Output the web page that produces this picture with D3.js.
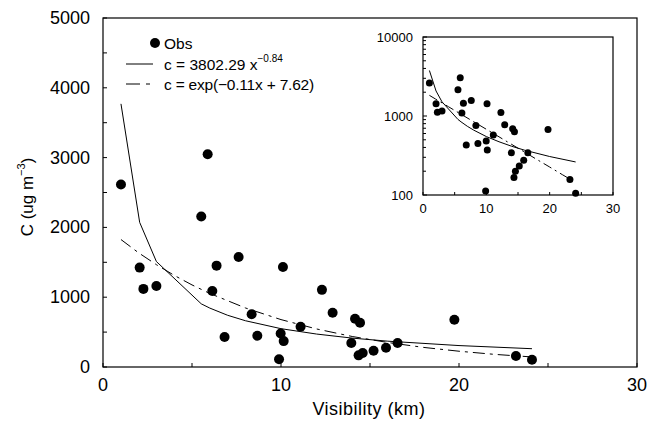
<!DOCTYPE html>
<html>
<head>
<meta charset="utf-8">
<script src="https://cdn.jsdelivr.net/npm/d3@7"></script>
<style>
  body { margin: 0; background: #fff; }
  svg text { font-family: "Liberation Sans", Arial, sans-serif; fill: #000; }
</style>
</head>
<body>
<svg id="chart" width="647" height="421"></svg>
<script>
// observed visibility (km) and concentration (ug m-3)
const obsX = [1.01, 2.06, 2.27, 3.0, 5.52, 5.88, 6.14, 6.38, 6.83, 7.62, 8.35, 8.67, 9.89, 9.98,
  10.11, 10.15, 11.1, 12.3, 12.9, 13.95, 14.16, 14.36, 14.44, 14.59, 15.2, 15.9, 16.55, 19.74, 23.2, 24.1]
const obsC = [2614, 1424, 1119, 1161, 2157, 3047, 1090, 1452, 429, 1576, 757, 448, 112, 481,
  1433, 371, 576, 1105, 776, 343, 690, 167, 633, 200, 233, 276, 343, 676, 157, 105]

// power fit c = 3802.29 x^-0.84, as drawn
const powX = [1.01, 2.06, 3.0, 5.52, 6.0, 7.0, 8.0, 10.0, 12.0, 14.0, 16.0, 20.0, 24.1]
const powC = [3770, 2072, 1511, 905, 844, 741, 663, 549, 472, 414, 370, 307, 262]

// exponential fit c = exp(-0.11x + 7.62), as drawn
const expX = [1.01, 2, 3, 4, 5, 6, 8, 10, 12, 14, 16, 18, 20, 22, 24.1]
const expC = [1826, 1636, 1466, 1313, 1176, 1054, 846, 679, 545, 437, 351, 281, 226, 181, 144]

const xTicks = [0, 10, 20, 30]
const yTicks = [0, 1000, 2000, 3000, 4000, 5000]
const insetYTicks = [100, 1000, 10000]

const svg = d3.select('#chart')

const x = d3.scaleLinear().domain([0, 30]).range([103, 637])
const y = d3.scaleLinear().domain([0, 5000]).range([367, 18])

// frame
svg.append('rect')
  .attr('x', 103).attr('y', 18)
  .attr('width', 637 - 103).attr('height', 367 - 18)
  .attr('fill', 'none').attr('stroke', '#000').attr('stroke-width', 1.2)

// inward ticks
const g = svg.append('g')
d3.range(0, 31, 5).forEach(v => {
  g.append('line').attr('x1', x(v)).attr('x2', x(v)).attr('y1', 367).attr('y2', 363)
    .attr('stroke', '#000')
})
d3.range(0, 5001, 500).forEach(v => {
  g.append('line').attr('x1', 103).attr('x2', 107).attr('y1', y(v)).attr('y2', y(v))
    .attr('stroke', '#000')
})
xTicks.forEach(v => {
  g.append('text').attr('x', x(v)).attr('y', 391).attr('text-anchor', 'middle')
    .attr('font-size', 18).text(v)
})
yTicks.forEach(v => {
  g.append('text').attr('x', 90).attr('y', y(v) + 6).attr('text-anchor', 'end')
    .attr('font-size', 18).text(v)
})

svg.append('text').attr('x', 369).attr('y', 415).attr('text-anchor', 'middle')
  .attr('font-size', 18).attr('letter-spacing', 0.5).text('Visibility (km)')

const yl = svg.append('text')
  .attr('transform', 'translate(33,197) rotate(-90)')
  .attr('text-anchor', 'middle').attr('font-size', 17)
yl.append('tspan').text('C (ug m')
yl.append('tspan').attr('font-size', 11).attr('dy', -8).text('−3')
yl.append('tspan').attr('dy', 8).text(')')

function drawFits(sel, sx, sy, r, dash) {
  const line = d3.line().x(d => sx(d[0])).y(d => sy(d[1]))
  sel.append('path').datum(d3.zip(powX, powC)).attr('d', line)
    .attr('fill', 'none').attr('stroke', '#000').attr('stroke-width', 1)
  sel.append('path').datum(d3.zip(expX, expC)).attr('d', line)
    .attr('fill', 'none').attr('stroke', '#000').attr('stroke-width', 1)
    .attr('stroke-dasharray', dash)
  sel.selectAll('circle.obs').data(d3.zip(obsX, obsC)).enter()
    .append('circle').attr('class', 'obs')
    .attr('cx', d => sx(d[0])).attr('cy', d => sy(d[1])).attr('r', r)
    .attr('fill', '#000')
}

drawFits(svg.append('g'), x, y, 5, '12,5,3,5')

// legend
const lg = svg.append('g')
lg.append('circle').attr('cx', 155).attr('cy', 43).attr('r', 5).attr('fill', '#000')
lg.append('text').attr('x', 164).attr('y', 49).attr('font-size', 15.5).text('Obs')
lg.append('line').attr('x1', 126).attr('x2', 153).attr('y1', 64).attr('y2', 64).attr('stroke', '#000')
const t2 = lg.append('text').attr('x', 164).attr('y', 70).attr('font-size', 15.5)
t2.append('tspan').text('c = 3802.29 x')
t2.append('tspan').attr('font-size', 10).attr('dy', -8).text('−0.84')
lg.append('line').attr('x1', 126).attr('x2', 155).attr('y1', 84).attr('y2', 84)
  .attr('stroke', '#000').attr('stroke-dasharray', '14,6,4,6')
lg.append('text').attr('x', 164).attr('y', 90).attr('font-size', 15.5)
  .attr('letter-spacing', -0.2).text('c = exp(−0.11x + 7.62)')

// inset with log y
const ix = d3.scaleLinear().domain([0, 30]).range([423, 613])
const iy = d3.scaleLog().domain([100, 10000]).range([195, 37])
const inset = svg.append('g')
inset.append('rect').attr('x', 423).attr('y', 37)
  .attr('width', 613 - 423).attr('height', 195 - 37)
  .attr('fill', '#fff').attr('stroke', '#000').attr('stroke-width', 1.2)
d3.range(0, 31, 5).forEach(v => {
  inset.append('line').attr('x1', ix(v)).attr('x2', ix(v)).attr('y1', 195).attr('y2', 192)
    .attr('stroke', '#000')
})
iy.ticks().forEach(v => {
  const major = insetYTicks.includes(v)
  inset.append('line').attr('x1', 423).attr('x2', major ? 427 : 426)
    .attr('y1', iy(v)).attr('y2', iy(v)).attr('stroke', '#000')
})
xTicks.forEach(v => {
  inset.append('text').attr('x', ix(v)).attr('y', 213).attr('text-anchor', 'middle')
    .attr('font-size', 13).text(v)
})
insetYTicks.forEach(v => {
  inset.append('text').attr('x', 413).attr('y', iy(v) + 5).attr('text-anchor', 'end')
    .attr('font-size', 13).text(v)
})
drawFits(inset.append('g'), ix, iy, 3.5, '9,4,2,4')
</script>
</body>
</html>
